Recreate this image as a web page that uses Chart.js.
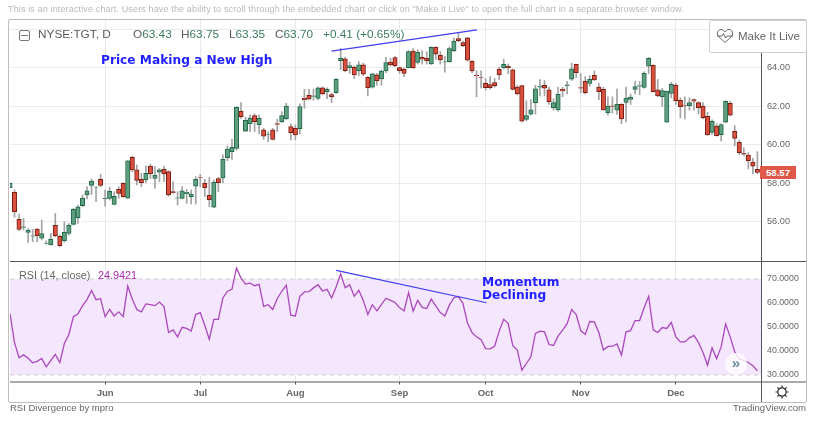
<!DOCTYPE html>
<html lang="en">
<head>
    <meta charset="UTF-8">
    <title>NYSE:TGT RSI Divergence</title>
    <script src="https://cdn.jsdelivr.net/npm/chart.js"></script>
    <style>
        html, body { margin: 0; padding: 0; background: #ffffff; }
        body { width: 818px; height: 422px; position: relative; overflow: hidden; font-family: 'Liberation Sans', sans-serif; }
        canvas { position: absolute; left: 0; top: 0; }
        .txt { position: absolute; white-space: nowrap; line-height: 1; }
        #frame { position: absolute; left: 8px; top: 19px; width: 797px; height: 382px; border: 1px solid #bdbdbd; border-radius: 2px; }
        #notice { left: 8px; top: 5px; font-size: 9.05px; color: #b9b9b9; letter-spacing: 0.12px; }
        #collapse { position: absolute; left: 19px; top: 30px; width: 9px; height: 9px; border: 1px solid #777; border-radius: 2px; }
        #collapse:after { content: ""; position: absolute; left: 1px; right: 1px; top: 4px; height: 1px; background: #777; }
        .leg { top: 29px; font-size: 11.8px; color: #5a5a5a; }
        .leg b { font-weight: normal; color: #3c7d5b; }
        .note { font-family: 'DejaVu Sans', sans-serif; font-weight: bold; color: #1f1fff; }
        #live { position: absolute; left: 709px; top: 20px; width: 96px; height: 31px; background: #fff; border: 1px solid #d0d0d0; border-radius: 2px; }
        #live span { position: absolute; left: 28px; top: 10px; font-size: 11.5px; color: #666; white-space: nowrap; line-height: 1; }
        #live svg { position: absolute; left: 6px; top: 7px; }
        #last { position: absolute; left: 760px; top: 166px; width: 36px; height: 13px; background: #df5848; color: #fff; font-size: 9.6px; font-weight: bold; line-height: 13px; text-align: center; }
        #go { position: absolute; left: 725px; top: 353px; width: 22px; height: 22px; border-radius: 50%; background: rgba(255,255,255,0.8); color: #6f8aa0; font-size: 15px; line-height: 19px; text-align: center; font-weight: bold; }
        #gear { position: absolute; left: 775px; top: 385px; }
    </style>
</head>
<body>
    <canvas id="grafico" width="818" height="422"></canvas>
    <div id="frame"></div>
    <div class="txt" id="notice">This is an interactive chart. Users have the ability to scroll through the embedded chart or click on "Make it Live" to open the full chart in a separate browser window.</div>
    <div id="collapse"></div>
    <div class="txt leg" style="left:38px">NYSE:TGT, D</div>
    <div class="txt leg" style="left:133px">O<b>63.43</b></div>
    <div class="txt leg" style="left:181px">H<b>63.75</b></div>
    <div class="txt leg" style="left:229px">L<b>63.35</b></div>
    <div class="txt leg" style="left:275px">C<b>63.70</b></div>
    <div class="txt leg" style="left:323px"><b>+0.41 (+0.65%)</b></div>
    <div class="txt note" style="left:101px;top:54px;font-size:12.2px">Price Making a New High</div>
    <div class="txt note" style="left:482px;top:276px;font-size:12.2px">Momentum</div>
    <div class="txt note" style="left:482px;top:289px;font-size:12.2px">Declining</div>
    <div class="txt" style="left:19px;top:270px;font-size:10.8px;color:#666">RSI (14, close)</div>
    <div class="txt" style="left:98px;top:270px;font-size:10.8px;color:#ab27b0">24.9421</div>
    <div id="live">
        <svg width="18" height="16" viewBox="0 0 18 16" fill="none" stroke="#555" stroke-width="0.9"><path d="M9 14.5 L2.5 8.5 C0 5.5 2 1.5 5 1.5 C7 1.5 8.2 2.7 9 4 C9.8 2.7 11 1.5 13 1.5 C16 1.5 18 5.5 15.5 8.5 Z"/><path d="M1 8 H6 L7.5 5.5 L9.5 10 L11 8 H17"/></svg>
        <span>Make It Live</span>
    </div>
    <div id="last">58.57</div>
    <div id="go">&#187;</div>
    <svg id="gear" width="14" height="14" viewBox="0 0 14 14" fill="none" stroke="#333" stroke-width="1.2"><circle cx="7" cy="7" r="4.2"/><path d="M7 0.5V2.8M7 11.2V13.5M0.5 7H2.8M11.2 7H13.5M2.4 2.4L4 4M10 10L11.6 11.6M2.4 11.6L4 10M10 4L11.6 2.4"/></svg>
    <div class="txt" style="left:10px;top:403px;font-size:9.5px;color:#666">RSI Divergence by mpro</div>
    <div class="txt" style="left:733px;top:403px;font-size:9.6px;color:#666">TradingView.com</div>

    <script>
        const opens = [57.78,57.54,56.13,55.72,55.46,55.26,55.63,55.16,54.88,54.81,55.82,55.25,55.02,55.40,55.87,56.22,56.84,57.41,57.90,57.80,58.21,57.21,57.22,56.91,57.69,58.00,57.24,59.36,58.70,58.21,58.18,58.90,58.26,58.58,58.73,58.61,57.57,57.24,57.22,57.47,57.31,57.86,58.30,58.00,57.38,56.77,58.25,58.28,59.34,59.65,59.82,61.75,60.71,61.11,61.52,61.05,60.78,60.54,60.78,61.11,61.21,61.37,60.95,60.86,60.85,62.44,62.58,62.52,62.42,62.96,62.77,62.61,62.72,64.38,64.47,64.02,64.03,63.86,64.16,63.51,63.00,63.64,63.43,63.84,64.31,64.54,64.02,63.93,64.02,64.88,64.28,64.55,64.50,64.21,65.07,64.66,64.30,64.33,64.90,65.53,65.32,65.56,64.35,63.62,63.50,63.20,63.13,63.24,63.93,64.02,64.10,63.90,63.00,63.08,61.33,61.60,62.20,63.00,63.10,62.86,61.94,61.82,62.89,63.08,63.41,64.19,62.98,63.30,63.19,63.62,63.01,62.89,61.68,62.03,61.80,62.11,62.21,62.37,62.89,63.05,62.99,64.09,64.14,62.86,62.51,61.18,62.67,63.10,62.32,62.05,62.04,62.36,62.20,62.02,61.49,60.65,60.98,60.53,61.18,62.16,60.70,60.13,59.56,59.47,59.11,58.73];
        const highs = [58.02,57.66,56.41,56.18,55.66,55.61,55.66,56.10,55.02,55.40,56.44,55.32,56.01,55.92,56.70,56.88,57.40,57.83,58.23,57.83,58.47,57.66,57.80,57.57,57.83,58.04,59.20,59.42,58.96,58.52,58.92,59.01,58.87,58.78,58.90,58.66,58.09,57.57,57.83,57.69,57.66,58.35,58.47,58.21,58.31,58.18,58.31,59.48,59.96,60.29,61.99,62.20,61.44,61.56,61.61,61.56,60.86,60.69,60.86,61.33,61.73,62.16,61.09,61.04,62.13,62.89,62.89,62.90,63.02,63.02,62.96,62.70,63.45,65.02,64.55,64.30,64.10,64.33,64.25,63.55,63.72,63.72,63.90,64.55,64.50,64.60,64.05,64.00,64.90,65.00,64.95,64.90,64.85,65.10,65.10,64.85,64.60,65.10,65.55,65.80,65.40,65.60,64.38,63.85,63.85,63.45,63.55,63.45,64.05,64.45,64.20,63.95,63.10,63.10,62.30,62.35,63.10,63.40,63.35,63.00,62.40,63.00,63.00,63.30,64.25,64.20,63.70,63.55,63.60,63.85,63.20,63.00,62.50,62.50,62.90,62.15,63.00,62.65,63.30,63.30,63.80,64.55,64.16,63.40,62.95,62.80,63.25,63.20,62.45,62.50,62.45,62.40,62.25,62.20,61.70,61.30,61.10,61.10,62.30,62.27,61.00,60.25,59.85,59.60,59.30,59.65];
        const lows = [57.78,56.24,55.54,55.58,54.94,54.97,54.97,55.06,54.85,54.80,55.23,54.71,54.95,55.32,55.84,55.92,56.79,57.19,57.43,57.05,57.83,56.82,57.14,56.88,57.22,57.28,57.22,58.61,57.92,57.83,58.04,58.26,57.74,58.09,58.09,57.34,57.48,56.88,57.19,56.96,56.93,56.93,57.83,57.31,56.79,56.74,57.57,58.04,59.18,59.25,59.74,61.38,60.69,60.69,60.69,60.57,60.29,60.17,60.26,60.69,61.16,61.30,60.26,60.26,60.57,61.90,62.34,62.32,62.35,62.60,62.40,62.20,62.68,63.90,63.80,63.72,63.45,63.60,63.60,62.55,62.95,63.10,63.10,63.75,64.10,64.05,63.72,63.55,64.00,63.97,64.20,64.20,64.20,64.18,64.45,64.20,63.78,64.30,64.85,65.35,65.10,64.35,63.75,62.50,62.95,62.85,62.90,63.00,63.40,63.95,63.70,62.85,62.60,61.20,61.25,61.55,61.60,62.55,62.55,62.10,61.80,61.75,62.50,62.65,63.35,63.50,62.70,62.65,63.05,63.35,62.35,61.80,61.55,61.65,61.60,61.10,61.20,62.10,62.65,62.60,62.95,63.70,62.75,62.50,62.00,61.17,62.45,62.10,61.40,61.35,61.80,61.80,61.60,61.35,60.50,60.55,60.45,60.20,61.15,61.50,59.95,59.50,59.45,58.75,58.50,58.50];
        const closes = [58.00,56.53,55.61,55.75,55.58,55.28,55.28,55.40,54.90,55.09,55.28,54.76,55.46,55.82,56.65,56.79,57.24,57.62,58.12,57.81,57.90,57.22,57.59,57.33,57.48,57.31,59.18,58.70,58.16,58.04,58.52,58.49,58.44,58.70,58.49,57.40,57.52,57.25,57.62,57.54,57.45,58.21,58.28,57.78,57.15,58.07,58.04,59.25,59.79,59.88,61.95,61.47,61.28,61.40,61.21,61.38,60.45,60.56,60.29,61.07,61.52,62.02,60.64,60.52,61.99,62.35,62.39,62.55,62.96,62.65,62.89,62.51,63.41,64.50,63.86,64.12,63.64,64.16,63.67,62.98,63.69,63.34,63.83,64.28,64.16,64.12,63.86,63.71,64.85,64.00,64.81,64.45,64.38,65.07,64.71,64.42,64.32,65.00,65.40,65.42,65.15,64.40,63.84,63.60,63.48,62.98,62.98,63.08,63.64,64.19,64.00,62.89,62.65,61.24,61.52,61.82,62.91,63.06,62.95,62.25,62.20,62.63,62.80,63.12,63.95,63.76,62.95,62.72,63.41,63.38,62.77,61.82,62.00,62.00,62.11,61.35,62.44,62.47,63.03,63.08,63.72,64.50,62.77,62.54,62.82,62.79,63.15,62.30,61.99,62.03,62.20,62.27,61.94,61.42,60.52,61.22,60.48,61.06,62.27,61.54,60.34,59.60,59.52,59.18,58.89,58.57];
        const rsiValues = [55.6,43.5,37.2,38.4,37,35.1,35.7,36.9,33.4,36,38.6,35.2,43.1,46.9,54.3,55.5,58.8,61.4,65.2,61.4,61.8,54.3,57.3,54.6,56.3,54.3,67.1,61.6,57.3,56.3,59.6,59.3,58.9,60.4,58.5,47.7,48.8,45.9,49.9,49.4,48.3,55.2,56,50.7,44.9,53.2,53.2,62.1,64.9,65.7,74.6,70.4,67.9,68.3,67.2,67.8,58.6,59.3,57.3,61.8,64.9,67.4,54.9,54.6,62.8,64.6,64.7,66.3,67.6,65,65.7,62.1,66.7,72.2,66.4,67.6,62.8,65.3,61.1,55.2,59.3,56.7,59.3,62,61.1,60.2,58.1,56.7,64.3,56.6,61.1,58.2,57.7,61.6,58.8,56,54.6,59.1,62.2,62.7,59.8,51.7,47.7,45.9,44.7,41,40.9,42,48.3,53.2,51.4,42.2,40.4,32,34.8,37.6,47.3,48.3,48,42.7,42.3,46.2,48.7,51.4,57.3,55.2,48.5,46.9,52.3,52.1,47.7,40.4,41.9,42,43,38.3,48,48.5,52.7,52.7,58,62.8,48.8,47.7,49.8,49.4,51.9,45.9,43.8,43.8,45.5,46.5,43.5,39.4,34.1,41.3,36.8,41.7,51.3,45.9,39.7,36.6,36.1,35.2,33.9,31.8];

        const monthLabels = ['Jun', 'Jul', 'Aug', 'Sep', 'Oct', 'Nov', 'Dec'];
        const monthBars = [21, 42, 63, 86, 105, 126, 147];
        const priceTicks = [56, 58, 60, 62, 64, 66];
        const rsiTicks = [30, 40, 50, 60, 70];
        const bandTop = 70;
        const bandBottom = 30;

        // lineas dibujadas a mano sobre el grafico (barra, valor)
        const priceTrendBars = [71, 103.1];
        const priceTrendValues = [64.87, 65.98];
        const rsiTrendBars = [72, 105.2];
        const rsiTrendValues = [73.6, 60.1];

        const barras = opens.map((_, i) => i);
        const subeFill = '#5f9e7f', subeBorde = '#1f6a49';
        const bajaFill = '#d9503f', bajaBorde = '#7a1e14';

        const separadores = {
            id: 'separadores',
            afterDraw(chart) {
                const c = chart.ctx, a = chart.chartArea, yr = chart.scales.yRsi;
                c.save();
                c.strokeStyle = '#555555';
                c.lineWidth = 1;
                c.beginPath();
                c.moveTo(a.left, yr.top + 0.5); c.lineTo(yr.right, yr.top + 0.5);
                c.moveTo(a.left, a.bottom + 0.5); c.lineTo(yr.right, a.bottom + 0.5);
                c.moveTo(a.right + 0.5, a.top); c.lineTo(a.right + 0.5, chart.scales.x.bottom);
                c.stroke();
                c.restore();
            }
        };

        new Chart(document.getElementById('grafico').getContext('2d'), {
            data: {
                labels: barras,
                datasets: [
                    {
                        type: 'line', yAxisID: 'yRsi', order: 6,
                        data: [{x: 0, y: bandTop}, {x: 166, y: bandTop}],
                        borderColor: '#cfcfcf', borderWidth: 1, borderDash: [4, 4], pointRadius: 0,
                        fill: {value: bandBottom}, backgroundColor: '#f4e6fd'
                    },
                    {
                        type: 'line', yAxisID: 'yRsi', order: 5,
                        data: [{x: 0, y: bandBottom}, {x: 166, y: bandBottom}],
                        borderColor: '#cfcfcf', borderWidth: 1, borderDash: [4, 4], pointRadius: 0, fill: false
                    },
                    {
                        type: 'bar', yAxisID: 'y', order: 4,
                        data: lows.map((l, i) => [l, highs[i]]),
                        backgroundColor: '#a3a3a3', barThickness: 1, grouped: false
                    },
                    {
                        type: 'bar', yAxisID: 'y', order: 3,
                        data: opens.map((o, i) => [o, closes[i]]),
                        backgroundColor: opens.map((o, i) => closes[i] >= o ? subeFill : bajaFill),
                        borderColor: opens.map((o, i) => closes[i] >= o ? subeBorde : bajaBorde),
                        borderWidth: 1, borderSkipped: false, barThickness: 4.4, grouped: false
                    },
                    {
                        type: 'line', yAxisID: 'yRsi', order: 2,
                        data: rsiValues,
                        borderColor: '#ab47bc', borderWidth: 1.3, pointRadius: 0, tension: 0, fill: false
                    },
                    {
                        type: 'line', yAxisID: 'y', order: 1,
                        data: priceTrendBars.map((b, i) => ({x: b, y: priceTrendValues[i]})),
                        borderColor: '#3f3fef', borderWidth: 1.2, pointRadius: 0, fill: false
                    },
                    {
                        type: 'line', yAxisID: 'yRsi', order: 1,
                        data: rsiTrendBars.map((b, i) => ({x: b, y: rsiTrendValues[i]})),
                        borderColor: '#3f3fef', borderWidth: 1.2, pointRadius: 0, fill: false
                    }
                ]
            },
            options: {
                responsive: false,
                animation: false,
                layout: { padding: { left: 10, right: 12, top: 20, bottom: 20 } },
                plugins: { legend: { display: false }, tooltip: { enabled: false } },
                scales: {
                    x: {
                        type: 'linear', min: 0, max: 165.8, offset: false,
                        afterBuildTicks: s => { s.ticks = monthBars.map(v => ({value: v})); },
                        afterFit: s => { s.height = 20.5; },
                        ticks: {
                            autoSkip: false, maxRotation: 0, padding: 3,
                            font: {family: "'Liberation Sans'", size: 9.5, weight: 'bold'}, color: '#666666',
                            callback: (v, i) => monthLabels[i]
                        },
                        grid: { offset: false, color: '#e9e9e9', lineWidth: 1, tickLength: 3, tickColor: '#555555' },
                        border: { display: false }
                    },
                    y: {
                        position: 'right', stack: 'panel', stackWeight: 2, weight: 1,
                        min: 53.97, max: 66.49,
                        afterBuildTicks: s => { s.ticks = priceTicks.map(v => ({value: v})); },
                        afterFit: s => { s.width = 45; },
                        ticks: {
                            padding: 6, font: {family: "'Liberation Sans'", size: 9.2}, color: '#666666',
                            callback: v => v.toFixed(2)
                        },
                        grid: { color: '#ececec', lineWidth: 1, drawTicks: false },
                        border: { display: false }
                    },
                    yRsi: {
                        position: 'right', stack: 'panel', stackWeight: 1, weight: 2,
                        min: 27.3, max: 77.5,
                        afterBuildTicks: s => { s.ticks = rsiTicks.map(v => ({value: v})); },
                        afterFit: s => { s.width = 45; },
                        ticks: {
                            padding: 6, font: {family: "'Liberation Sans'", size: 8.8}, color: '#666666',
                            callback: v => v.toFixed(4)
                        },
                        grid: {
                            color: c => (c.tick && (c.tick.value === bandTop || c.tick.value === bandBottom)) ? 'rgba(0,0,0,0)' : '#ecdcf7',
                            lineWidth: 1, drawTicks: false
                        },
                        border: { display: false }
                    }
                }
            },
            plugins: [separadores]
        });
    </script>
</body>
</html>
